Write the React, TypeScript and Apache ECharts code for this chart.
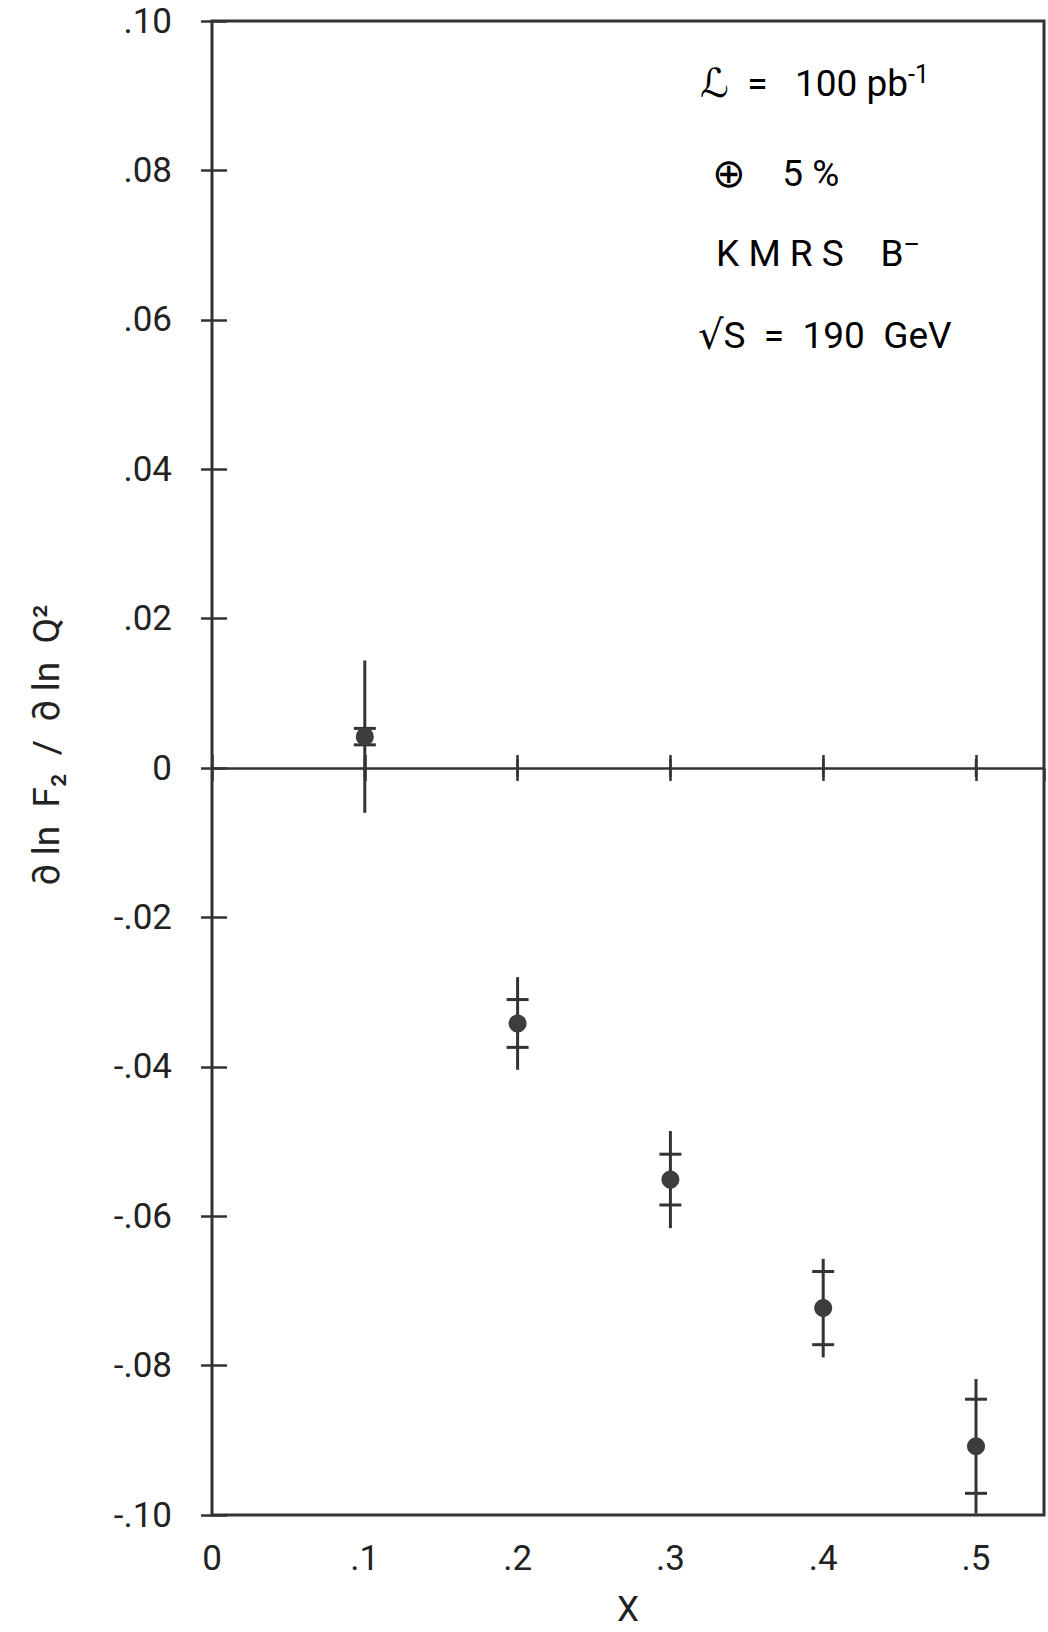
import React, { useEffect, useRef } from "react";
import * as echarts from "echarts";

// ---- data ----
const xValues = [0.1, 0.2, 0.3, 0.4, 0.5];
const yValues = [0.0042, -0.0342, -0.0551, -0.0723, -0.0908];
const statErr = [0.0011, 0.0032, 0.0034, 0.0049, 0.0063];
const totalErr = [0.0102, 0.0062, 0.0065, 0.0066, 0.009];

const xTickLabels = ["0", ".1", ".2", ".3", ".4", ".5"];
const yTickLabels = ["-.10", "-.08", "-.06", "-.04", "-.02", "0", ".02", ".04", ".06", ".08", ".10"];
const zeroLineTicks = [0.1, 0.2, 0.3, 0.4, 0.5];

const xMin = 0;
const xMax = 0.5445;
const xStep = 0.1;
const yMin = -0.1;
const yMax = 0.1;
const yStep = 0.02;

const FONT = "Roboto, 'DejaVu Sans', sans-serif";
const INK = "#333333";

function labelFor(v: number, min: number, step: number, labels: string[]) {
  const i = Math.round((v - min) / step);
  if (Math.abs(v - (min + i * step)) > 1e-9) return "";
  return labels[i] ?? "";
}

export default function App() {
  const ref = useRef<HTMLDivElement | null>(null);
  useEffect(() => {
    if (!ref.current) return;
    const chart = echarts.init(ref.current, null, { renderer: "svg" });
    const points = xValues.map((x, i) => [x, yValues[i], statErr[i], totalErr[i]]);

    const tickStyle = { show: true, inside: true, length: 13, lineStyle: { color: INK, width: 2.5 } };
    const labelStyle = { color: "#222", fontFamily: FONT, fontSize: 35 };
    const rich = {
      n: { fontFamily: FONT, fontSize: 37, color: "#222" },
      big: { fontFamily: "'DejaVu Sans', sans-serif", fontSize: 40, color: "#222" },
      sup: { fontFamily: FONT, fontSize: 25, color: "#222", verticalAlign: "top", padding: [0, 0, 18, 0] },
    };

    const legendTexts = [
      "{big|ℒ}{n|  =   100 pb}{sup|-1}",
      "{big|⊕}{n|    5 %}",
      "{n|K M R S    B}{sup|–}",
      "{big|√}{n|S  =  190  GeV}",
    ];
    const legendX = [700, 712, 716, 698];
    const legendY = [83, 173, 253, 335];

    chart.setOption({
      animation: false,
      backgroundColor: "#ffffff",
      grid: {
        left: 212,
        right: 4,
        top: 21,
        bottom: 102,
        show: true,
        borderColor: INK,
        borderWidth: 3,
        backgroundColor: "transparent",
      },
      xAxis: [
        {
          type: "value",
          position: "bottom",
          min: xMin,
          max: xMax,
          interval: xStep,
          axisLine: { show: false },
          axisTick: tickStyle,
          splitLine: { show: false },
          axisLabel: {
            ...labelStyle,
            margin: 26,
            showMaxLabel: false,
            formatter: (v: number) => labelFor(v, xMin, xStep, xTickLabels),
          },
          name: "X",
          nameLocation: "middle",
          nameGap: 77,
          nameTextStyle: { color: "#222", fontFamily: FONT, fontSize: 35 },
        },
        {
          type: "value",
          position: "top",
          min: xMin,
          max: xMax,
          interval: xStep,
          axisLine: { show: false },
          axisTick: tickStyle,
          splitLine: { show: false },
          axisLabel: { show: false },
        },
      ],
      yAxis: [
        {
          type: "value",
          position: "left",
          min: yMin,
          max: yMax,
          interval: yStep,
          axisLine: { show: false },
          axisTick: { ...tickStyle, length: 15 },
          splitLine: { show: false },
          axisLabel: {
            ...labelStyle,
            margin: 40,
            formatter: (v: number) => labelFor(v, yMin, yStep, yTickLabels),
          },
        },
        {
          type: "value",
          position: "right",
          min: yMin,
          max: yMax,
          interval: yStep,
          axisLine: { show: false },
          axisTick: { ...tickStyle, length: 11 },
          splitLine: { show: false },
          axisLabel: { show: false },
        },
      ],
      graphic: [
        {
          type: "text",
          x: 46,
          y: 745,
          rotation: Math.PI / 2,
          style: {
            text: "∂ ln  F₂  /  ∂ ln  Q²",
            fill: "#222",
            font: `37px ${FONT}`,
            textAlign: "center",
            textVerticalAlign: "middle",
          },
        },
        ...legendTexts.map((t, i) => ({
          type: "text",
          x: legendX[i],
          y: legendY[i],
          style: {
            text: t,
            rich,
            textAlign: "left",
            textVerticalAlign: "middle",
          },
        })),
      ],
      series: [
        {
          type: "custom",
          name: "zero",
          xAxisIndex: 0,
          yAxisIndex: 0,
          data: zeroLineTicks.map((x) => [x, 0]),
          renderItem: (_p: any, api: any) => {
            const c = api.coord([api.value(0), api.value(1)]);
            return {
              type: "line",
              shape: { x1: c[0], y1: c[1] - 9, x2: c[0], y2: c[1] + 9 },
              style: { stroke: INK, lineWidth: 2.5 },
            };
          },
          markLine: {
            silent: true,
            symbol: "none",
            label: { show: false },
            lineStyle: { color: INK, width: 2.5, type: "solid" },
            data: [{ yAxis: 0 }],
          },
          z: 2,
        },
        {
          type: "custom",
          name: "points",
          xAxisIndex: 0,
          yAxisIndex: 0,
          data: points,
          renderItem: (_p: any, api: any) => {
            const x = api.value(0);
            const y = api.value(1);
            const se = api.value(2);
            const te = api.value(3);
            const c = api.coord([x, y]);
            const top = api.coord([x, y + te]);
            const bot = api.coord([x, y - te]);
            const s1 = api.coord([x, y + se]);
            const s2 = api.coord([x, y - se]);
            const st = { stroke: INK, lineWidth: 3 };
            return {
              type: "group",
              children: [
                { type: "line", shape: { x1: c[0], y1: top[1], x2: c[0], y2: bot[1] }, style: st },
                { type: "line", shape: { x1: c[0] - 11, y1: s1[1], x2: c[0] + 11, y2: s1[1] }, style: st },
                { type: "line", shape: { x1: c[0] - 11, y1: s2[1], x2: c[0] + 11, y2: s2[1] }, style: st },
                { type: "circle", shape: { cx: c[0], cy: c[1], r: 9 }, style: { fill: "#3d3d3d" } },
              ],
            };
          },
          z: 3,
        },
      ],
    });
    return () => chart.dispose();
  }, []);

  return (
    <div
      ref={ref}
      style={{ position: "absolute", left: 0, top: 0, width: 1048, height: 1632, background: "#fff" }}
    />
  );
}
